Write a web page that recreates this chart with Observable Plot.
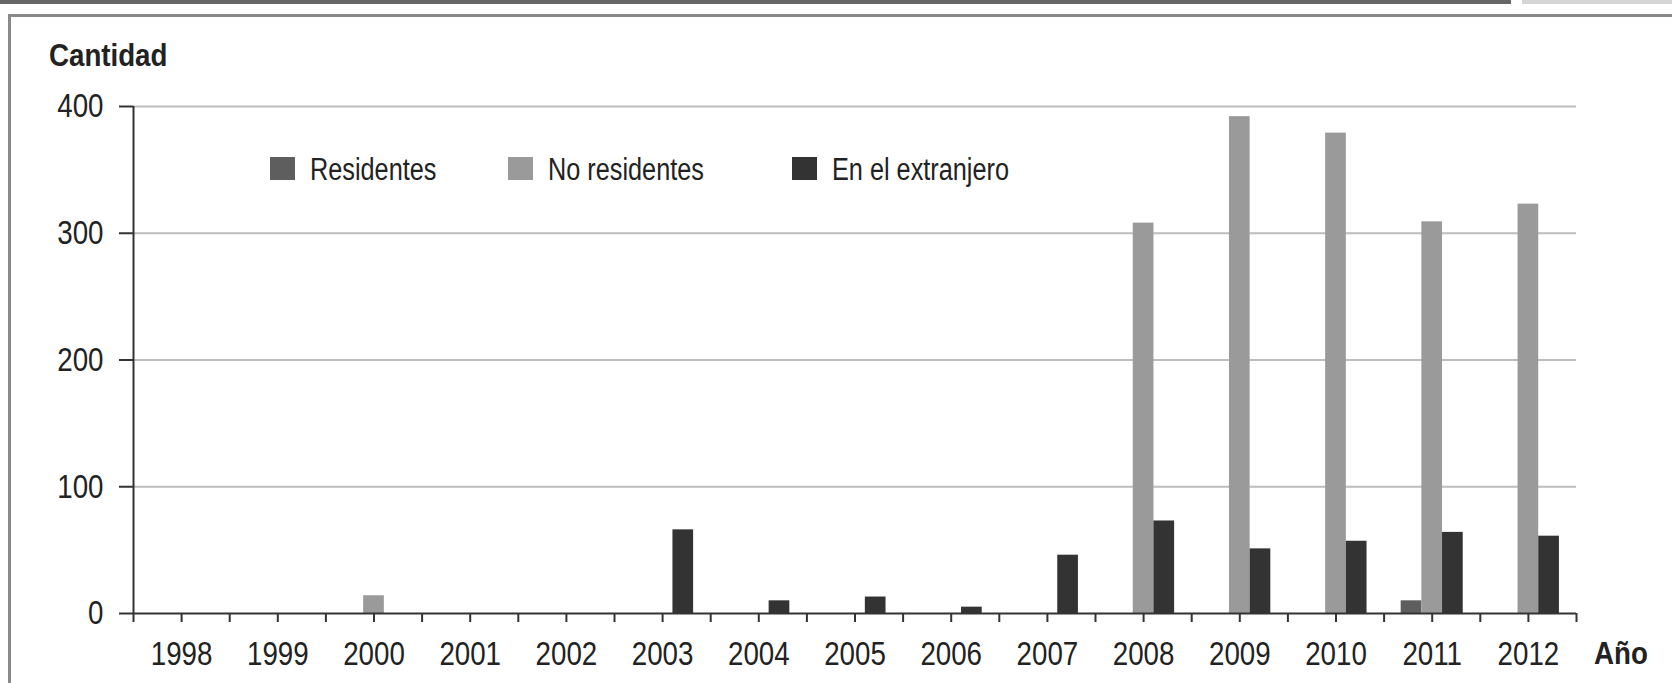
<!DOCTYPE html>
<html>
<head>
<meta charset="utf-8">
<script src="https://cdn.jsdelivr.net/npm/d3@7"></script>
<script src="https://cdn.jsdelivr.net/npm/@observablehq/plot@0.6"></script>
<style>
  html, body { margin: 0; padding: 0; background: #fff; }
  #wrap { position: relative; width: 1672px; height: 683px; overflow: hidden; background: #fff; }
  #wrap > svg { position: absolute; left: 0; top: 0; }
  .bar-dark { position: absolute; left: 0; top: 0; width: 1511px; height: 4px; background: #666; }
  .bar-light { position: absolute; left: 1522px; top: 0; width: 150px; height: 4px; background: #d4d4d4; }
  .box { position: absolute; left: 8px; top: 14px; width: 1700px; height: 700px; border-top: 3px solid #898989; border-left: 3px solid #898989; }
</style>
</head>
<body>
<div id="wrap">
  <div class="bar-dark"></div>
  <div class="bar-light"></div>
  <div class="box"></div>
</div>
<script>
// ---- data ----
const years = [1998, 1999, 2000, 2001, 2002, 2003, 2004, 2005, 2006, 2007, 2008, 2009, 2010, 2011, 2012];
const series = ["Residentes", "No residentes", "En el extranjero"];
const residentes   = [0, 0, 0,  0, 0, 0,  0,  0, 0,  0,   0,   0,   0,  10,   0];
const noResidentes = [0, 0, 14, 0, 0, 0,  0,  0, 0,  0, 308, 392, 379, 309, 323];
const extranjero   = [0, 0, 0,  0, 0, 66, 10, 13, 5, 46,  73,  51,  57,  64,  61];
const yTicks = [0, 100, 200, 300, 400];
const yLabel = "Cantidad";
const xLabel = "Año";

// ---- styles ----
const colors = ["#5e5e5e", "#9a9a9a", "#333333"];
const FONT = "'Liberation Sans', Arial, sans-serif";
const barW = 0.215; // fraction of a year slot per bar

const valuesBySeries = [residentes, noResidentes, extranjero];
const rows = years.flatMap((yr, i) =>
  series.map((s, k) => ({year: yr, series: s, k, value: valuesBySeries[k][i]}))
).filter(d => d.value > 0);

const halfTicks = d3.range(years.length * 2 + 1).map(i => years[0] - 0.5 + i * 0.5);

const chart = Plot.plot({
  width: 1672,
  height: 683,
  marginLeft: 133,
  marginRight: 96,
  marginTop: 106,
  marginBottom: 70,
  style: {fontFamily: FONT, fontSize: "34px", color: "#222", background: "transparent"},
  x: {domain: [years[0] - 0.5, years[years.length - 1] + 0.5], label: null},
  y: {domain: [0, 400], label: null},
  color: {domain: series, range: colors},
  marks: [
    Plot.ruleY(yTicks.filter(d => d > 0), {stroke: "#bdbdbd", strokeWidth: 2}),
    Plot.rectY(rows, {
      x1: d => d.year + (d.k - 1.5) * barW,
      x2: d => d.year + (d.k - 0.5) * barW,
      y1: 0,
      y2: "value",
      fill: "series"
    }),
    Plot.ruleY([0], {stroke: "#333", strokeWidth: 2}),
    Plot.ruleX([years[0] - 0.5], {stroke: "#333", strokeWidth: 2}),
    Plot.axisY({ticks: yTicks, tickSize: 14, tickPadding: 16, stroke: "#333", strokeWidth: 2, label: null, fill: "#222"}),
    Plot.axisX({
      ticks: halfTicks,
      tickSize: 9,
      tickPadding: 18,
      stroke: "#333",
      strokeWidth: 2,
      fill: "#222",
      label: null,
      tickFormat: d => Number.isInteger(d) ? String(d) : ""
    })
  ]
});
const wrap = document.getElementById("wrap");
wrap.appendChild(chart);

// ---- overlay texts and legend ----
const ns = "http://www.w3.org/2000/svg";
const ov = document.createElementNS(ns, "svg");
ov.setAttribute("width", 1672);
ov.setAttribute("height", 683);
ov.style.position = "absolute";
ov.style.left = "0";
ov.style.top = "0";
ov.style.fontFamily = FONT;
wrap.appendChild(ov);

function addText(str, x, y, size, weight) {
  const t = document.createElementNS(ns, "text");
  t.setAttribute("x", x);
  t.setAttribute("y", y);
  t.setAttribute("font-size", size);
  t.setAttribute("font-weight", weight);
  t.setAttribute("fill", "#222");
  t.textContent = str;
  ov.appendChild(t);
  return t;
}
addText(yLabel, 49, 66, 32, "bold").dataset.squeeze = "0.865";
addText(xLabel, 1594, 664, 32, "bold").dataset.squeeze = "0.865";

const legendX = [270, 508, 792];
series.forEach((s, k) => {
  const r = document.createElementNS(ns, "rect");
  r.setAttribute("x", legendX[k]);
  r.setAttribute("y", 157);
  r.setAttribute("width", 25);
  r.setAttribute("height", 23);
  r.setAttribute("fill", colors[k]);
  ov.appendChild(r);
  addText(s, legendX[k] + 40, 180, 31, "normal");
});

// narrow the typeface (reference uses a condensed sans)
wrap.querySelectorAll("text").forEach(t => {
  const len = t.getComputedTextLength();
  if (!len) return;
  const f = +(t.dataset.squeeze || 0.815);
  t.setAttribute("textLength", len * f);
  t.setAttribute("lengthAdjust", "spacingAndGlyphs");
});
</script>
</body>
</html>
